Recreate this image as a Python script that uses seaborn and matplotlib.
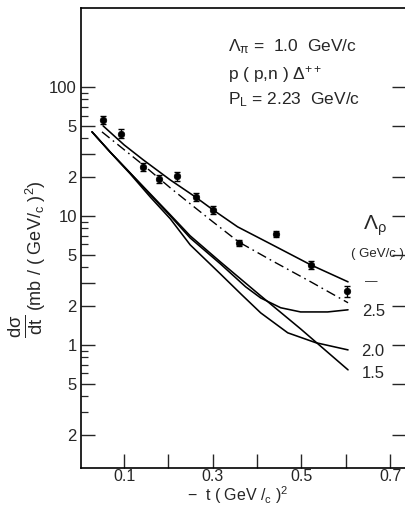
import numpy as np
import pandas as pd
import matplotlib
matplotlib.use("Agg")
import matplotlib.pyplot as plt
import seaborn as sns
from matplotlib.ticker import FixedLocator, FixedFormatter, NullFormatter

# ---- data ----
t_data = [0.052, 0.093, 0.143, 0.179, 0.220, 0.261, 0.301, 0.360, 0.442, 0.521, 0.602]
ds_data = [55.5, 43.5, 24.0, 19.4, 20.4, 14.0, 11.1, 6.17, 7.25, 4.17, 2.62]
ds_err = [4.0, 3.5, 1.6, 1.3, 1.6, 1.0, 0.8, 0.3, 0.45, 0.3, 0.25]

t_top = [0.0525, 0.100, 0.143, 0.204, 0.261, 0.301, 0.356, 0.430, 0.521, 0.605]
ds_top = [49.9, 35.5, 27.2, 19.0, 14.0, 11.1, 8.22, 6.07, 4.17, 3.08]

t_dd = [0.050, 0.143, 0.204, 0.238, 0.300, 0.358, 0.430, 0.521, 0.605]
ds_dd = [44.8, 24.8, 16.5, 13.3, 9.0, 6.29, 4.56, 3.08, 2.12]

t_25 = [0.0276, 0.0683, 0.1136, 0.159, 0.204, 0.249, 0.317, 0.374, 0.408, 0.453, 0.498, 0.559, 0.605]
ds_25 = [44.8, 31.3, 21.5, 14.6, 10.0, 6.74, 4.25, 2.82, 2.31, 1.94, 1.80, 1.80, 1.87]

t_20 = [0.0276, 0.0683, 0.1136, 0.159, 0.204, 0.249, 0.317, 0.365, 0.408, 0.469, 0.532, 0.605]
ds_20 = [44.8, 31.3, 21.2, 14.0, 9.5, 5.96, 3.55, 2.45, 1.77, 1.24, 1.04, 0.914]

t_15 = [0.0276, 0.0683, 0.1136, 0.159, 0.204, 0.249, 0.317, 0.408, 0.498, 0.605]
ds_15 = [44.8, 31.3, 21.5, 14.8, 10.2, 7.0, 4.40, 2.40, 1.33, 0.64]

y_major = [0.2, 0.5, 1, 2, 5, 10, 20, 50, 100]
y_major_labels = ["2", "5", "1", "2", "5", "10", "2", "5", "100"]
y_long_unlabeled = [3, 30]
y_minor = [0.3, 0.4, 0.6, 0.7, 0.8, 0.9, 4, 6, 7, 8, 9, 40, 60, 70, 80, 90]
x_major = [0.1, 0.2, 0.3, 0.4, 0.5, 0.6, 0.7]
x_major_labels = ["0.1", "", "0.3", "", "0.5", "", "0.7"]

rho_labels = ["—", "2.5", "2.0", "1.5"]

# ---- style ----
sns.set_style("ticks")
plt.rcParams['font.family'] = ['Liberation Sans', 'DejaVu Sans']
plt.rcParams['mathtext.fontset'] = 'custom'
plt.rcParams['mathtext.rm'] = 'Liberation Sans'
plt.rcParams['mathtext.it'] = 'Liberation Sans'
plt.rcParams['mathtext.sf'] = 'Liberation Sans'

W, H = 406, 505
fig = plt.figure(figsize=(W / 100, H / 100), dpi=100)
ax = fig.add_axes([81 / W, 1 - 468 / H, (406 - 81) / W, (468 - 8) / H])

lw = 1.15
for tt, dd in [(t_top, ds_top), (t_25, ds_25), (t_20, ds_20), (t_15, ds_15)]:
    df = pd.DataFrame({"t": tt, "ds": dd})
    sns.lineplot(data=df, x="t", y="ds", ax=ax, color="black", lw=lw,
                 sort=False, estimator=None)
df_dd = pd.DataFrame({"t": t_dd, "ds": ds_dd})
sns.lineplot(data=df_dd, x="t", y="ds", ax=ax, color="black", lw=1.0,
             sort=False, estimator=None, dashes=False)
ax.lines[-1].set_linestyle((0, (7, 3, 1.2, 3)))

ax.errorbar(t_data, ds_data, yerr=ds_err, fmt="none", ecolor="black",
            elinewidth=1.0, capsize=2.0, capthick=1.0)
sns.scatterplot(x=t_data, y=ds_data, ax=ax, color="black", s=22,
                edgecolor="black", linewidth=0.5, zorder=5)

ax.set_yscale("log")
ax.set_xlim(0.0027, 0.7357)
ax.set_ylim(0.111, 409)

ax.yaxis.set_major_locator(FixedLocator(y_major))
ax.yaxis.set_major_formatter(FixedFormatter(y_major_labels))
ax.yaxis.set_minor_locator(FixedLocator(y_minor))
ax.yaxis.set_minor_formatter(NullFormatter())
ax.xaxis.set_major_locator(FixedLocator(x_major))
ax.xaxis.set_major_formatter(FixedFormatter(x_major_labels))
ax.xaxis.set_minor_locator(FixedLocator([]))

ax.tick_params(axis="y", which="major", direction="in", length=10, width=1.0,
               left=True, right=True, labelsize=12, pad=3)
ax.tick_params(axis="y", which="minor", direction="in", length=5, width=0.9,
               left=True, right=False)
ax.tick_params(axis="x", which="major", direction="in", length=10, width=1.0,
               bottom=True, top=False, labelsize=11.5, pad=1)

sec = ax.secondary_yaxis("left")
sec.set_yticks(y_long_unlabeled)
sec.set_yticklabels(["", ""])
sec.tick_params(direction="in", length=10, width=1.0)
sec.spines["left"].set_visible(False)
sec.yaxis.set_minor_locator(FixedLocator([]))

for s in ax.spines.values():
    s.set_linewidth(1.2)
    s.set_color("black")

ax.set_xlabel("")
ax.set_ylabel("")

# ---- texts ----
def ftxt(x, y, s, **kw):
    fig.text(x / W, 1 - y / H, s, **kw)

ftxt(228, 47, r"$\Lambda_{\pi}$ =  1.0  GeV/c", fontsize=12.5, ha="left", va="center")
ftxt(228, 74, r"p ( p,n ) $\Delta^{++}$", fontsize=12.5, ha="left", va="center")
ftxt(228, 100, r"P$_{L}$ = 2.23  GeV/c", fontsize=12.5, ha="left", va="center")

ftxt(375, 226, r"$\Lambda_{\rho}$", fontsize=15, ha="center", va="center")
ftxt(377, 254, "( GeV/c )", fontsize=9.5, ha="center", va="center")
ftxt(371, 282, rho_labels[0], fontsize=9, ha="center", va="center")
ftxt(374, 312, rho_labels[1], fontsize=12, ha="center", va="center")
ftxt(373, 352, rho_labels[2], fontsize=12, ha="center", va="center")
ftxt(373, 373, rho_labels[3], fontsize=12, ha="center", va="center")

ftxt(238, 495.5, r"$-$  t ( GeV /$_{c}$ )$^{2}$", fontsize=11.5, ha="center", va="center")
ftxt(26, 326, r"$\frac{d\sigma}{dt}$", fontsize=19, ha="center", va="center", rotation=90)
ftxt(36, 246, r"(mb / ( GeV/$_{c}$ )$^{2}$)", fontsize=13,
     ha="center", va="center", rotation=90)

fig.savefig("out.png", dpi=100)
